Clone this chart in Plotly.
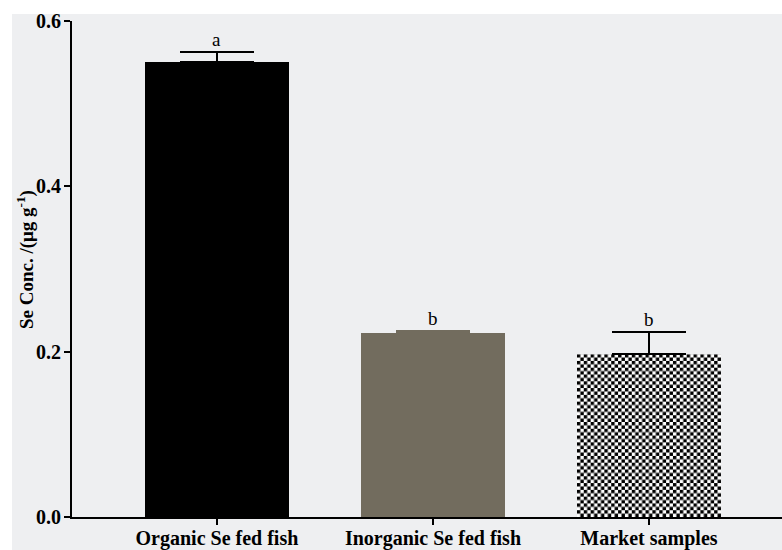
import base64
import plotly.graph_objects as go

# Selenium concentration per sample group (mean with upper SEM)
categories = ["Organic Se fed fish", "Inorganic Se fed fish", "Market samples"]
se_mean = [0.550, 0.222, 0.197]
se_err = [0.012, 0.003, 0.027]
sig_letters = ["a", "b", "b"]
y_ticks = [0.0, 0.2, 0.4, 0.6]
y_title = "Se Conc. /(μg g<sup>-1</sup>)"

bar_fill = ["#000000", "#726c5e", "rgba(0,0,0,0)"]
err_color = ["#000000", "#726c5e", "#000000"]
bar_width = 0.667
bg = "#eeeff1"
serif = "Liberation Serif"

fig = go.Figure()
for i, cat in enumerate(categories):
    fig.add_trace(go.Bar(
        x=[i], y=[se_mean[i]], width=bar_width,
        marker=dict(color=bar_fill[i], line=dict(width=0)),
        error_y=dict(type="data", symmetric=False, array=[se_err[i]], arrayminus=[0],
                     color=err_color[i], thickness=2, width=37),
        showlegend=False, name=cat,
    ))
    fig.add_annotation(x=i, y=se_mean[i] + se_err[i], text=sig_letters[i],
                       showarrow=False, yanchor="bottom", yshift=0,
                       font=dict(family=serif, size=19, color="#000"))

# checkerboard texture for the market-sample bar
cols, rows = 42, 48
svg = (f'<svg xmlns="http://www.w3.org/2000/svg" width="{cols}" height="{rows}" '
       f'viewBox="0 0 {cols} {rows}" preserveAspectRatio="none"><defs>'
       '<pattern id="c" width="2" height="2" patternUnits="userSpaceOnUse">'
       '<rect width="2" height="2" fill="#fff"/><rect width="1" height="1" fill="#000"/>'
       '<rect x="1" y="1" width="1" height="1" fill="#000"/></pattern></defs>'
       f'<rect width="{cols}" height="{rows}" fill="url(#c)"/></svg>')
checker_uri = "data:image/svg+xml;base64," + base64.b64encode(svg.encode()).decode()
fig.add_layout_image(dict(
    source=checker_uri, xref="x", yref="y",
    x=2 - bar_width / 2, y=se_mean[2], sizex=bar_width, sizey=se_mean[2],
    xanchor="left", yanchor="top", sizing="stretch", layer="below",
))

# white frame strips on the left and top edges
fig.add_shape(type="rect", xref="paper", yref="paper", x0=-0.2, x1=-0.0845, y0=-0.2, y1=1.2,
              fillcolor="white", line=dict(width=0), layer="below")
fig.add_shape(type="rect", xref="paper", yref="paper", x0=-0.2, x1=1.2, y0=1.0141, y1=1.2,
              fillcolor="white", line=dict(width=0), layer="below")

# y-axis title
fig.add_annotation(xref="paper", yref="paper", x=-0.0662, y=0.52, text=y_title,
                   textangle=-90, showarrow=False, xanchor="center", yanchor="middle",
                   font=dict(family=serif, size=19, color="#000", weight="bold"))

fig.update_layout(
    width=782, height=550,
    margin=dict(l=72, r=0, t=21, b=33),
    paper_bgcolor=bg, plot_bgcolor=bg,
    bargap=0,
    xaxis=dict(
        range=[-0.671, 2.616], tickvals=[0, 1, 2], ticktext=categories,
        showline=True, linecolor="#000", linewidth=2,
        ticks="outside", ticklen=6, tickwidth=2, tickcolor="#000",
        ticklabelstandoff=-4,
        showgrid=False, zeroline=False, automargin=False,
        tickfont=dict(family=serif, size=20, color="#000", weight="bold"),
    ),
    yaxis=dict(
        range=[0, 0.6], tickvals=y_ticks, tickformat=".1f",
        showline=True, linecolor="#000", linewidth=2,
        ticks="outside", ticklen=6, tickwidth=2, tickcolor="#000",
        ticklabelstandoff=-1,
        showgrid=False, zeroline=False, automargin=False,
        tickfont=dict(family=serif, size=20, color="#000", weight="bold"),
    ),
)

fig.write_html("out.html")
